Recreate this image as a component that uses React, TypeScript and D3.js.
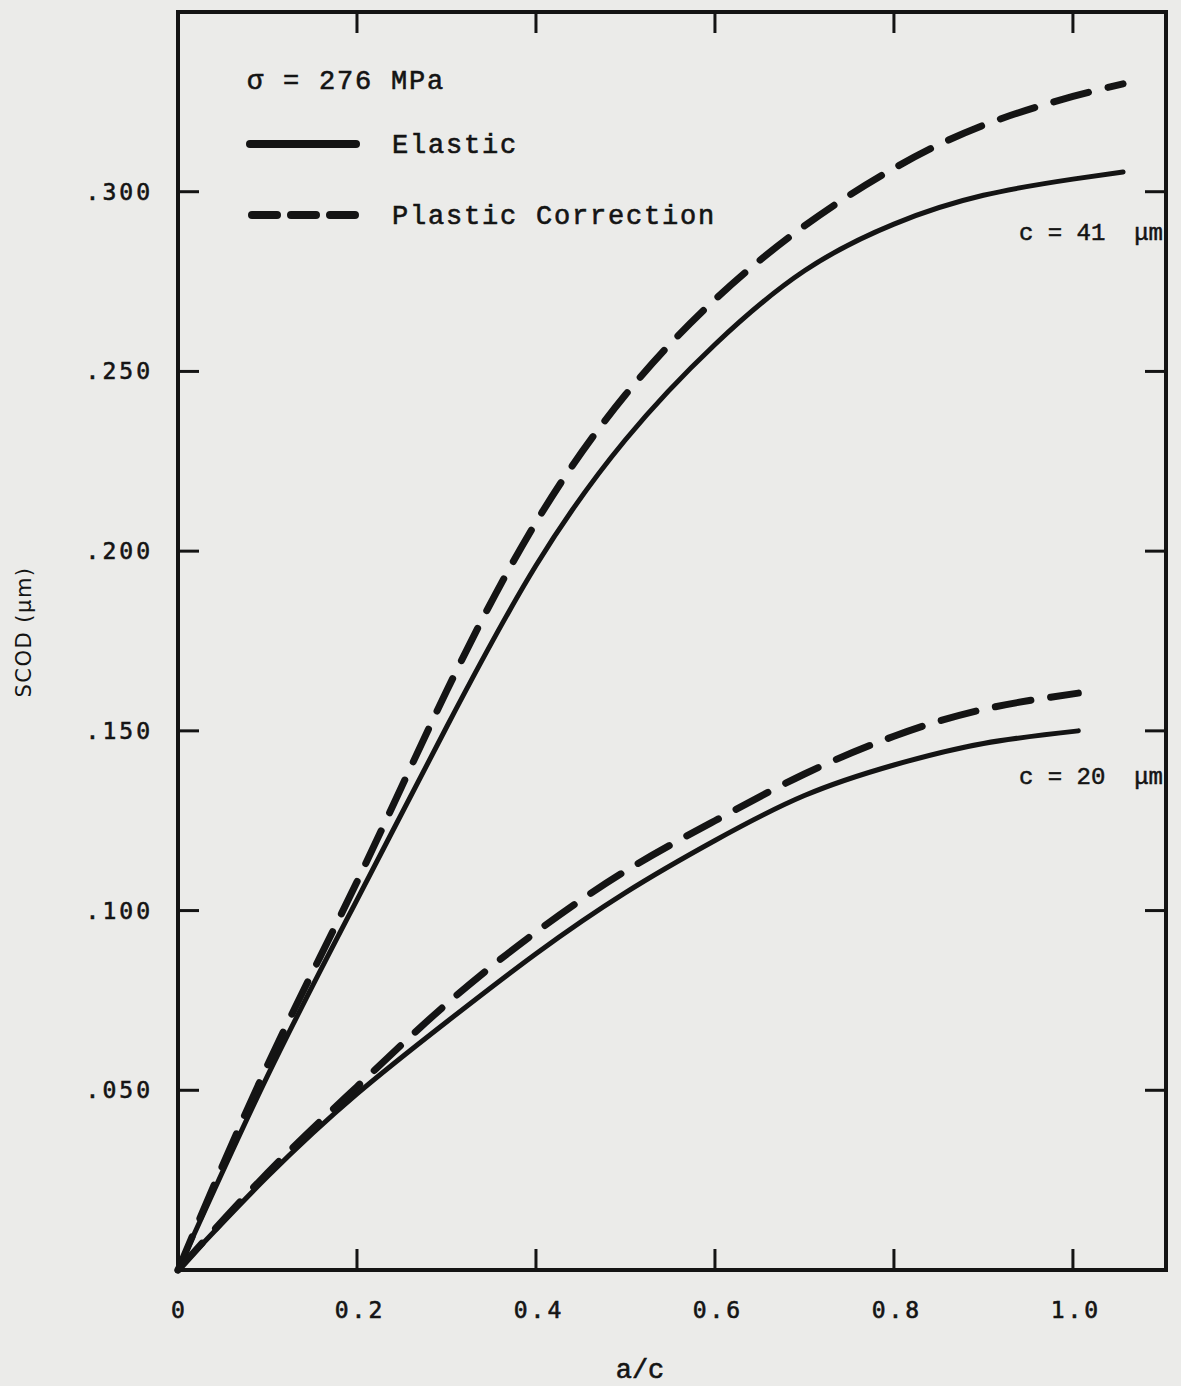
import React, { useEffect, useRef } from 'react';
import * as d3 from 'd3';

// a/c positions for the two crack sizes
const acLarge = [0, 0.1, 0.2, 0.3, 0.4, 0.5, 0.6, 0.7, 0.8, 0.9, 1.0, 1.056];
const acSmall = [0, 0.1, 0.2, 0.3, 0.4, 0.5, 0.6, 0.7, 0.8, 0.9, 1.006];

// SCOD (um)
const elastic41 = [0, 0.054, 0.103, 0.151, 0.196, 0.231, 0.2575, 0.278, 0.291, 0.299, 0.3035, 0.3055];
const plastic41 = [0, 0.057, 0.108, 0.161, 0.208, 0.2435, 0.270, 0.2905, 0.3065, 0.3185, 0.3265, 0.330];
const elastic20 = [0, 0.026, 0.049, 0.069, 0.088, 0.105, 0.1195, 0.132, 0.1405, 0.1465, 0.150];
const plastic20 = [0, 0.027, 0.051, 0.074, 0.094, 0.111, 0.125, 0.138, 0.1485, 0.156, 0.1605];

const xTicks = [0.2, 0.4, 0.6, 0.8, 1.0];
const xTickLabels = ['0.2', '0.4', '0.6', '0.8', '1.0'];
const yTicks = [0.05, 0.1, 0.15, 0.2, 0.25, 0.3];
const yTickLabels = ['.050', '.100', '.150', '.200', '.250', '.300'];

const App = () => {
  const svgRef = useRef<SVGSVGElement>(null);

  useEffect(() => {
    const svg = d3.select(svgRef.current);
    svg.selectAll('*').remove();

    const W = 1181, H = 1386;
    const left = 178, right = 1166, top = 12, bottom = 1270;
    const ink = '#141414';
    const mono = '"Liberation Mono", "DejaVu Sans Mono", monospace';
    const sansMono = '"DejaVu Sans Mono", monospace';

    svg.attr('width', W).attr('height', H);
    svg.append('rect').attr('width', W).attr('height', H).attr('fill', '#ebebe9');

    const x = d3.scaleLinear().domain([0, 1.104]).range([left, right]);
    const y = d3.scaleLinear().domain([0, 0.35]).range([bottom, top]);

    // frame
    svg.append('rect')
      .attr('x', left).attr('y', top)
      .attr('width', right - left).attr('height', bottom - top)
      .attr('fill', 'none').attr('stroke', ink).attr('stroke-width', 4);

    const tickLen = 21;
    const tk = svg.append('g').attr('stroke', ink).attr('stroke-width', 3);
    xTicks.forEach(t => {
      tk.append('line').attr('x1', x(t)).attr('x2', x(t)).attr('y1', bottom).attr('y2', bottom - tickLen);
      tk.append('line').attr('x1', x(t)).attr('x2', x(t)).attr('y1', top).attr('y2', top + tickLen);
    });
    yTicks.forEach(t => {
      tk.append('line').attr('x1', left).attr('x2', left + tickLen).attr('y1', y(t)).attr('y2', y(t));
      tk.append('line').attr('x1', right).attr('x2', right - tickLen).attr('y1', y(t)).attr('y2', y(t));
    });

    // tick labels
    const lab = svg.append('g').attr('fill', ink).attr('stroke', ink).attr('stroke-width', 0.6)
      .style('font-family', sansMono).style('font-size', '23px');
    lab.append('text').attr('x', x(0)).attr('y', 1318).attr('text-anchor', 'middle').text('0');
    xTicks.forEach((t, i) => {
      lab.append('text').attr('x', x(t) + 3).attr('y', 1318).attr('text-anchor', 'middle')
        .style('letter-spacing', '3px').text(xTickLabels[i]);
    });
    yTicks.forEach((t, i) => {
      lab.append('text').attr('x', 153).attr('y', y(t) + 8).attr('text-anchor', 'end')
        .style('letter-spacing', '3px').text(yTickLabels[i]);
    });

    // axis titles
    svg.append('text').attr('transform', 'translate(31,632) rotate(-90)')
      .attr('text-anchor', 'middle').attr('fill', ink)
      .style('font-family', '"DejaVu Sans", sans-serif').style('font-size', '21px')
      .style('letter-spacing', '1.5px').text('SCOD (μm)');
    svg.append('text').attr('x', 640).attr('y', 1378).attr('text-anchor', 'middle')
      .attr('fill', ink).attr('stroke', ink).attr('stroke-width', 0.6)
      .style('font-family', mono).style('font-size', '27px').text('a/c');

    // curves
    const line = d3.line<[number, number]>()
      .x(d => x(d[0])).y(d => y(d[1]))
      .curve(d3.curveNatural);

    const draw = (xs: number[], ys: number[], dashed: boolean) => {
      const pts = xs.map((v, i) => [v, ys[i]] as [number, number]);
      const p = svg.append('path').attr('d', line(pts))
        .attr('fill', 'none').attr('stroke', ink)
        .attr('stroke-linecap', 'round').attr('stroke-linejoin', 'round');
      if (dashed) p.attr('stroke-width', 7).attr('stroke-dasharray', '36 20');
      else p.attr('stroke-width', 5);
    };
    draw(acLarge, elastic41, false);
    draw(acLarge, plastic41, true);
    draw(acSmall, elastic20, false);
    draw(acSmall, plastic20, true);

    // curve labels
    const cl = svg.append('g').attr('fill', ink).attr('stroke', ink).attr('stroke-width', 0.5)
      .style('font-family', mono).style('font-size', '24px');
    cl.append('text').attr('x', 1163).attr('y', 240).attr('text-anchor', 'end')
      .style('white-space', 'pre').text('c = 41  μm');
    cl.append('text').attr('x', 1163).attr('y', 784).attr('text-anchor', 'end')
      .style('white-space', 'pre').text('c = 20  μm');

    // legend
    const lg = svg.append('g').attr('fill', ink).attr('stroke', ink).attr('stroke-width', 0.6)
      .style('font-family', mono).style('font-size', '27px').style('letter-spacing', '1.8px');
    lg.append('text').attr('x', 247).attr('y', 89).text('σ = 276 MPa');
    svg.append('line').attr('x1', 250).attr('x2', 356).attr('y1', 144).attr('y2', 144)
      .attr('stroke', ink).attr('stroke-width', 8).attr('stroke-linecap', 'round');
    lg.append('text').attr('x', 392).attr('y', 153).text('Elastic');
    svg.append('line').attr('x1', 252).attr('x2', 356).attr('y1', 215).attr('y2', 215)
      .attr('stroke', ink).attr('stroke-width', 8).attr('stroke-linecap', 'round')
      .attr('stroke-dasharray', '25 14');
    lg.append('text').attr('x', 392).attr('y', 224).text('Plastic Correction');
  }, []);

  return (
    <svg ref={svgRef} style={{ position: 'absolute', left: 0, top: 0, display: 'block' }} />
  );
};

export default App;
